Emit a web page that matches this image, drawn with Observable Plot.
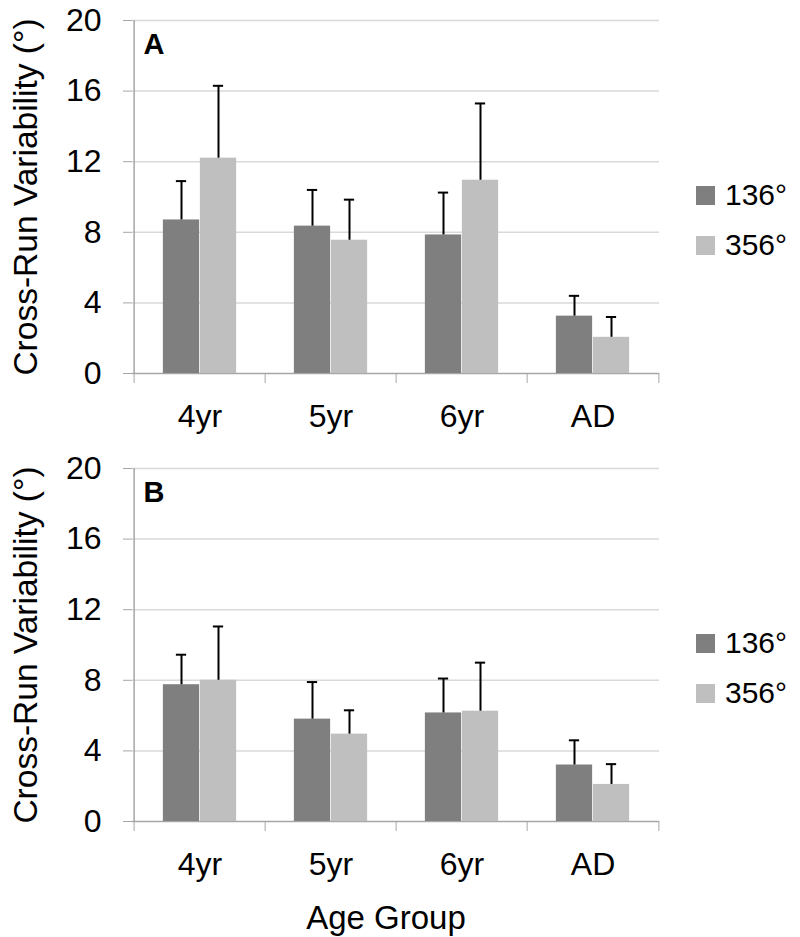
<!DOCTYPE html>
<html>
<head>
<meta charset="utf-8">
<script src="https://cdn.jsdelivr.net/npm/d3@7"></script>
<script src="https://cdn.jsdelivr.net/npm/@observablehq/plot@0.6"></script>
<style>
  html, body { margin: 0; padding: 0; background: #fff; }
  #wrap { position: relative; width: 800px; height: 937px; overflow: hidden; font-family: "Liberation Sans", Arial, sans-serif; }
  #wrap svg { display: block; }
  .leg { position: absolute; display: flex; align-items: flex-start; font-size: 30px; line-height: 30px; color: #000; }
  .sw { width: 19px; height: 19px; margin-top: 6px; margin-right: 10px; }
  .ytitle { position: absolute; font-size: 33.5px; line-height: normal; white-space: nowrap; color: #000;
            transform: translate(-50%, -50%) rotate(-90deg); }
</style>
</head>
<body>
<div id="wrap"></div>
<script>
// ---- data ----
const categories = ["4yr", "5yr", "6yr", "AD"];
const seriesNames = ["136°", "356°"];
const seriesColors = ["#7f7f7f", "#bfbfbf"];
const yTicks = [0, 4, 8, 12, 16, 20];

// Panel A
const a136 = [8.7, 8.35, 7.85, 3.25];
const a136Err = [2.2, 2.05, 2.4, 1.15];
const a356 = [12.2, 7.55, 10.95, 2.05];
const a356Err = [4.1, 2.3, 4.35, 1.15];

// Panel B
const b136 = [7.75, 5.8, 6.15, 3.2];
const b136Err = [1.7, 2.1, 1.95, 1.4];
const b356 = [8.0, 4.95, 6.25, 2.1];
const b356Err = [3.05, 1.35, 2.75, 1.15];

const yTitle = "Cross-Run Variability (°)";
const xTitle = "Age Group";

// ---- layout ----
const W = 800, ML = 132, MR = 141;
const band = (W - ML - MR) / categories.length;
const barW = 37, capW = 11;
const axisGray = "#a6a6a6", gridGray = "#d9d9d9";
const font = "'Liberation Sans', Arial, sans-serif";

function rows(vals, errs) {
  return categories.map((c, i) => ({cat: c, v: vals[i], e: errs[i], top: vals[i] + errs[i]}));
}

function panel(letter, s1, s2, height, marginBottom, withXTitle) {
  const series = [s1, s2];
  const marks = [
    Plot.ruleY(yTicks.filter(d => d > 0), {y: d => d, stroke: gridGray, strokeWidth: 1.5}),
    Plot.ruleX([categories[0]], {x: d => d, dx: -band / 2, y1: 0, y2: 20, stroke: axisGray, strokeWidth: 1.5}),
    Plot.ruleY([0], {y: d => d, stroke: axisGray, strokeWidth: 1.5}),
    Plot.axisY({ticks: yTicks, tickSize: 9, tickPadding: 22, fontSize: 32, stroke: axisGray, fill: "#000", label: null}),
    Plot.axisX({ticks: categories, tickSize: 10, tickFormat: () => "", dx: -band / 2, stroke: axisGray, label: null}),
    Plot.axisX({ticks: [categories[categories.length - 1]], tickSize: 10, tickFormat: () => "", dx: band / 2, stroke: axisGray, label: null}),
    Plot.axisX({tickSize: 0, tickPadding: 31, fontSize: 32, fill: "#000", label: null})
  ];
  series.forEach((data, k) => {
    const left = k === 0;
    const off = left ? -barW / 2 : barW / 2;
    marks.push(
      Plot.barY(data, {
        x: "cat", y: "v", fill: seriesColors[k],
        insetLeft: left ? band / 2 - barW : band / 2,
        insetRight: left ? band / 2 : band / 2 - barW
      }),
      Plot.ruleX(data, {x: "cat", y1: "v", y2: "top", dx: off, stroke: "#000", strokeWidth: 2}),
      Plot.tickY(data, {x: "cat", y: "top", dx: off, stroke: "#000", strokeWidth: 2,
        insetLeft: (band - capW) / 2, insetRight: (band - capW) / 2})
    );
  });
  marks.push(
    Plot.text([letter], {frameAnchor: "top-left", text: d => d, dx: 11, dy: 13, lineAnchor: "top", textAnchor: "start",
      fontSize: 29, fontWeight: "bold", fill: "#000"})
  );
  if (withXTitle) {
    marks.push(Plot.text([xTitle], {frameAnchor: "bottom", text: d => d, lineAnchor: "top", dy: 84, dx: -10, fontSize: 33, fill: "#000"}));
  }
  return Plot.plot({
    width: W,
    height: height,
    marginLeft: ML,
    marginRight: MR,
    marginTop: 20,
    marginBottom: marginBottom,
    style: {fontFamily: font, background: "#fff", color: "#000"},
    x: {type: "band", domain: categories, padding: 0, align: 0.5},
    y: {domain: [0, 20]},
    marks
  });
}

const wrap = document.getElementById("wrap");
wrap.appendChild(panel("A", rows(a136, a136Err), rows(a356, a356Err), 448, 75, false));
wrap.appendChild(panel("B", rows(b136, b136Err), rows(b356, b356Err), 489, 116, true));

// y-axis titles (HTML, rotated), centred on each plot area
function yLabel(cy) {
  const d = document.createElement("div");
  d.className = "ytitle";
  d.textContent = yTitle;
  d.style.left = "26px";
  d.style.top = cy + "px";
  wrap.appendChild(d);
}
yLabel(197);
yLabel(645);

// legends (HTML), one per panel
function legend(top) {
  seriesNames.forEach((name, k) => {
    const row = document.createElement("div");
    row.className = "leg";
    row.style.left = "696px";
    row.style.top = (top + k * 49.5) + "px";
    const sw = document.createElement("div");
    sw.className = "sw";
    sw.style.background = seriesColors[k];
    const t = document.createElement("span");
    t.textContent = name;
    row.appendChild(sw);
    row.appendChild(t);
    wrap.appendChild(row);
  });
}
legend(180);
legend(628);
</script>
</body>
</html>
